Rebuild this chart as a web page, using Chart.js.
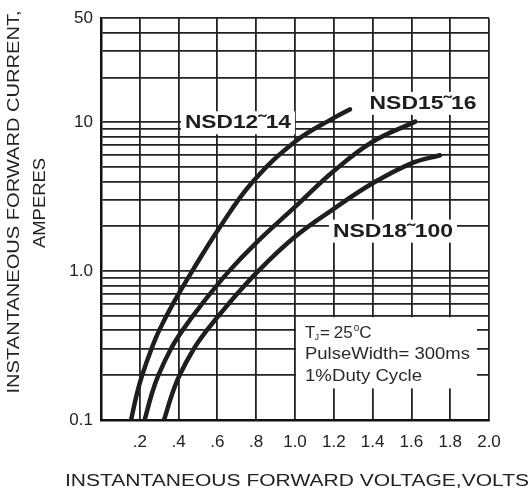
<!DOCTYPE html>
<html>
<head>
<meta charset="utf-8">
<script src="https://cdn.jsdelivr.net/npm/chart.js@4.4.0/dist/chart.umd.min.js"></script>
<style>
  html, body { margin: 0; padding: 0; background: #fff; }
  #wrap { width: 532px; height: 494px; position: relative; }
</style>
</head>
<body>
<div id="wrap"><canvas id="c"></canvas></div>
<script>
// curve data: forward volts vs amperes
const nsd12Volts = [0.155, 0.185, 0.212, 0.26, 0.30, 0.37, 0.47, 0.61, 0.78, 1.0, 1.2, 1.283];
const nsd12Amps  = [0.1, 0.15, 0.2, 0.3, 0.4, 0.6, 1.0, 1.95, 3.95, 7.4, 10.7, 12.2];
const nsd15Volts = [0.225, 0.262, 0.296, 0.36, 0.42, 0.52, 0.66, 0.8, 1.0, 1.2, 1.4, 1.62];
const nsd15Amps  = [0.1, 0.15, 0.2, 0.3, 0.4, 0.6, 1.0, 1.55, 2.7, 4.7, 7.4, 10.1];
const nsd18Volts = [0.325, 0.367, 0.405, 0.478, 0.545, 0.656, 0.81, 1.0, 1.2, 1.4, 1.6, 1.747];
const nsd18Amps  = [0.1, 0.15, 0.2, 0.3, 0.4, 0.6, 1.0, 1.70, 2.62, 3.89, 5.3, 6.0];

const seriesNames = ['NSD12\u02DC14', 'NSD15\u02DC16', 'NSD18\u02DC100'];
// where each curve name sits (volts, amps) and how wide it is
const labelAt = [[0.706, 10], [1.66, 13.5], [1.505, 1.87]];
const labelWidth = [106, 107, 120];

const xTicks = [0, 0.2, 0.4, 0.6, 0.8, 1.0, 1.2, 1.4, 1.6, 1.8, 2.0];
const yGrid = [0.1, 0.2, 0.3, 0.4, 0.5, 0.6, 0.7, 0.8, 0.9,
               1, 2, 3, 4, 5, 6, 7, 8, 9,
               10, 20, 30, 40, 50];
const yLabels = { 0.1: '0.1', 1: '1.0', 10: '10', 50: '50' };

const noteLines = ['PulseWidth= 300ms', '1%Duty Cycle'];

const pts = (xs, ys) => xs.map((x, i) => ({ x: x, y: ys[i] }));
const FONT = '"Liberation Sans", Arial, sans-serif';
const INK = '#1e1e1e';

function fitText(ctx, text, cx, cy, width, align) {
  const w = ctx.measureText(text).width;
  const s = width / w;
  ctx.save();
  ctx.translate(cx, cy);
  ctx.scale(s, 1);
  ctx.textAlign = align || 'center';
  ctx.fillText(text, 0, 0);
  ctx.restore();
}

const decor = {
  id: 'decor',
  beforeDatasetsDraw(chart) {
    const ctx = chart.ctx;
    const xs = chart.scales.x, ys = chart.scales.y;
    ctx.save();
    ctx.fillStyle = '#fff';
    seriesNames.forEach((name, i) => {
      const cx = xs.getPixelForValue(labelAt[i][0]);
      const cy = ys.getPixelForValue(labelAt[i][1]);
      const w = labelWidth[i] + 8;
      ctx.fillRect(cx - w / 2, cy - 11, w, 23);
    });
    // conditions box
    const bx0 = xs.getPixelForValue(1.0), bx1 = xs.getPixelForValue(1.938);
    const by0 = ys.getPixelForValue(0.49), by1 = ys.getPixelForValue(0.163);
    ctx.fillRect(bx0 + 1, by0, bx1 - bx0 - 1, by1 - by0);
    ctx.restore();
  },
  afterDatasetsDraw(chart) {
    const ctx = chart.ctx;
    const xs = chart.scales.x, ys = chart.scales.y;
    ctx.save();
    ctx.fillStyle = INK;
    ctx.textBaseline = 'middle';
    ctx.font = 'bold 19px ' + FONT;
    seriesNames.forEach((name, i) => {
      const cx = xs.getPixelForValue(labelAt[i][0]);
      const cy = ys.getPixelForValue(labelAt[i][1]);
      fitText(ctx, name, cx, cy + 1, labelWidth[i]);
    });

    // conditions text
    ctx.fillStyle = '#2a2a2a';
    ctx.textAlign = 'left';
    let x = 305, y = 333;
    ctx.font = '17px ' + FONT;
    ctx.fillText('T', x, y); x += ctx.measureText('T').width - 1;
    ctx.font = '9px ' + FONT;
    ctx.fillText('J', x, y + 5); x += ctx.measureText('J').width + 1;
    ctx.font = '17px ' + FONT;
    ctx.fillText('=', x, y); x += ctx.measureText('=').width + 4;
    ctx.fillText('25', x, y); x += ctx.measureText('25').width + 1;
    ctx.font = '10px ' + FONT;
    ctx.fillText('o', x, y - 5); x += ctx.measureText('o').width;
    ctx.font = '17px ' + FONT;
    ctx.fillText('C', x, y);
    ctx.font = '16px ' + FONT;
    fitText(ctx, noteLines[0], 305, 355, 165, 'left');
    fitText(ctx, noteLines[1], 305, 377, 117, 'left');

    // axis titles
    ctx.fillStyle = '#222';
    ctx.font = '16px ' + FONT;
    fitText(ctx, 'INSTANTANEOUS FORWARD VOLTAGE,VOLTS', 297, 482, 464);
    ctx.save();
    ctx.translate(15, 202);
    ctx.rotate(-Math.PI / 2);
    fitText(ctx, 'INSTANTANEOUS FORWARD CURRENT,', 0, 0, 383);
    ctx.restore();
    ctx.save();
    ctx.translate(41, 203);
    ctx.rotate(-Math.PI / 2);
    fitText(ctx, 'AMPERES', 0, 0, 90);
    ctx.restore();
    ctx.restore();
  }
};

const lineStyle = {
  borderColor: INK,
  borderWidth: 4.5,
  pointRadius: 0,
  fill: false,
  tension: 0.4,
  borderCapStyle: 'round',
  borderJoinStyle: 'round'
};

new Chart(document.getElementById('c'), {
  type: 'line',
  data: {
    datasets: [
      Object.assign({ label: seriesNames[0], data: pts(nsd12Volts, nsd12Amps) }, lineStyle),
      Object.assign({ label: seriesNames[1], data: pts(nsd15Volts, nsd15Amps) }, lineStyle),
      Object.assign({ label: seriesNames[2], data: pts(nsd18Volts, nsd18Amps) }, lineStyle)
    ]
  },
  options: {
    responsive: true,
    maintainAspectRatio: false,
    animation: false,
    layout: { padding: { top: 14, right: 43, left: 0, bottom: 0 } },
    plugins: { legend: { display: false }, tooltip: { enabled: false } },
    scales: {
      x: {
        type: 'linear',
        min: 0, max: 2.0,
        afterBuildTicks: (s) => { s.ticks = xTicks.map(v => ({ value: v })); },
        afterFit: (s) => { s.height = 74; },
        ticks: {
          autoSkip: false,
          maxRotation: 0,
          padding: 12,
          color: '#222',
          font: { family: FONT, size: 17 },
          callback: (v) => v === 0 ? '' : (v < 1 ? '.' + Math.round(v * 10) : v.toFixed(1))
        },
        grid: { color: '#222', lineWidth: 1.8, drawTicks: false },
        border: { color: '#111', width: 2.5 }
      },
      y: {
        type: 'logarithmic',
        min: 0.1, max: 50,
        afterBuildTicks: (s) => { s.ticks = yGrid.map(v => ({ value: v })); },
        afterFit: (s) => { s.width = 101; },
        ticks: {
          autoSkip: false,
          padding: 8,
          color: '#222',
          font: { family: FONT, size: 17 },
          callback: (v) => yLabels[v] || ''
        },
        grid: { color: '#222', lineWidth: 1.8, drawTicks: false },
        border: { color: '#111', width: 2.5 }
      }
    }
  },
  plugins: [decor]
});
</script>
</body>
</html>
